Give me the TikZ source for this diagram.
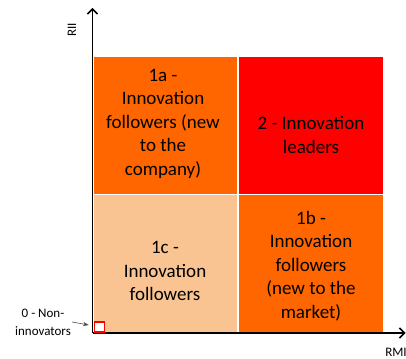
\documentclass[tikz,border=0pt]{standalone}
\usepackage{fontspec}
\setmainfont{Carlito}
\usepackage{tikz}
\usetikzlibrary{arrows.meta}
\definecolor{orangeA}{HTML}{FF6600}
\definecolor{redA}{HTML}{FF0000}
\definecolor{peachA}{HTML}{FAC492}
\tikzset{
  cell/.style={rectangle, minimum width=143.5pt, minimum height=137.5pt, inner sep=0pt},
  celltext/.style={align=center, font=\fontsize{19}{23.5}\selectfont},
  small/.style={font=\fontsize{13}{18}\selectfont, inner sep=1pt},
}

\begin{document}
\begin{tikzpicture}[x=1pt, y=1pt]
\useasboundingbox (0,0) rectangle (406,358);

\node [cell, fill=orangeA] (q1a) at (165.25,232.25) {};
\node [cell, fill=redA]    (q2)  at (311,232.25)    {};
\node [cell, fill=peachA]  (q1c) at (165.25,93.75)  {};
\node [cell, fill=orangeA] (q1b) at (311,93.75)     {};

\node [celltext] (t1a) at (163,234.5) {1a -\\Innovation\\followers (new\\to the\\company)};
\node [celltext] (t2)  at (311,223)   {2 - Innovation\\leaders};
\node [celltext] (t1c) at (165,87)    {1c -\\Innovation\\followers};
\node [celltext] (t1b) at (311,92)    {1b -\\Innovation\\followers\\(new to the\\market)};

% axes
\coordinate (o)  at (92.5,25);
\coordinate (yt) at (92.5,350);
\coordinate (xt) at (405.5,25);
\draw [line width=1.5pt, -{Straight Barb[length=5pt,width=10pt]}] (o) -- (yt);
\draw [line width=1.5pt, -{Straight Barb[length=5pt,width=10pt]}] (o) -- (xt);
\node [small, rotate=90] (rii) at (72,328) {RII};
\node [small] (rmi) at (396,6) {RMI};

% non-innovators
\node [draw=red, line width=1.5pt, fill=white, minimum size=10pt, inner sep=0pt] (zero) at (99.5,31) {};
\node [small, align=center] (lbl0) at (43,36) {0 - Non-\\innovators};
\draw [->, >=Stealth, gray!60!black, semithick] (lbl0.east) -- ([xshift=-5pt,yshift=2pt]zero.west);
\end{tikzpicture}
\end{document}
